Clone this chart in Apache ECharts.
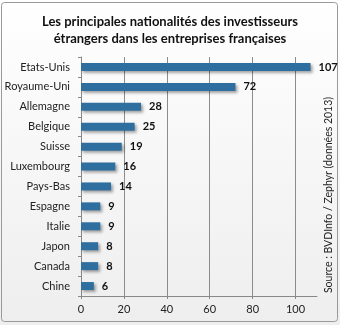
<!DOCTYPE html>
<html><head><meta charset="utf-8">
<script src="https://cdn.jsdelivr.net/npm/echarts@6/dist/echarts.min.js"></script>
<style>html,body{margin:0;padding:0;background:#fff}#c{width:340px;height:325px}</style>
</head><body><div id="c"></div>
<script>
var categories = ['Etats-Unis','Royaume-Uni','Allemagne','Belgique','Suisse','Luxembourg','Pays-Bas','Espagne','Italie','Japon','Canada','Chine'];
var values = [107,72,28,25,19,16,14,9,9,8,8,6];
var xTicks = [0,20,40,60,80,100];
var titleText = 'Les principales nationalités des investisseurs\nétrangers dans les entreprises françaises';
var sourceText = 'Source : BVDInfo / Zephyr (données 2013)';

var font = 'Lato, "Open Sans", sans-serif';
var chart = echarts.init(document.getElementById('c'), null, {renderer:'canvas'});
chart.setOption({
  animation:false,
  backgroundColor:{type:'linear',x:0,y:0,x2:0,y2:1,colorStops:[{offset:0,color:'#ffffff'},{offset:1,color:'#eeeeee'}]},
  title:{text:titleText,left:'center',top:8,textStyle:{fontFamily:font,fontSize:13,fontWeight:'bold',color:'#111',lineHeight:17}},
  graphic:[
    {type:'rect',shape:{x:1.5,y:2.5,width:336,height:319,r:3},style:{fill:null,stroke:'#9a9a9a',lineWidth:1}},
    {type:'text',x:329,y:195,rotation:Math.PI/2,style:{text:sourceText,fontFamily:font,fontSize:10.5,fill:'#222',align:'center',verticalAlign:'middle'}}
  ],
  grid:{left:81,right:23,top:57,bottom:29,containLabel:false},
  xAxis:{type:'value',min:0,max:110,interval:20,
    axisLine:{show:true,lineStyle:{color:'#888'}},
    axisTick:{show:true,length:3,lineStyle:{color:'#888'}},
    axisLabel:{showMaxLabel:false,fontFamily:font,fontSize:11,color:'#222',margin:8,
      formatter:function(v){return xTicks.indexOf(v)>=0?String(v):'';}},
    splitLine:{show:true,lineStyle:{color:['#8c8c8c','#8c8c8c','#8c8c8c','#8c8c8c','#8c8c8c','#8c8c8c','rgba(0,0,0,0)'],width:1}}
  },
  yAxis:{type:'category',data:categories,inverse:true,
    axisLine:{show:true,lineStyle:{color:'#888'}},
    axisTick:{show:true,length:3,lineStyle:{color:'#888'}},
    axisLabel:{fontFamily:font,fontSize:11,color:'#222',margin:11}
  },
  series:[{type:'bar',data:values,barWidth:8,
    itemStyle:{color:'#2f6f9f',shadowColor:'rgba(0,0,0,0.35)',shadowBlur:3,shadowOffsetX:2,shadowOffsetY:2},
    label:{show:true,position:'right',distance:8,fontFamily:font,fontSize:11,fontWeight:'bold',color:'#111'}
  }]
});
</script></body></html>
